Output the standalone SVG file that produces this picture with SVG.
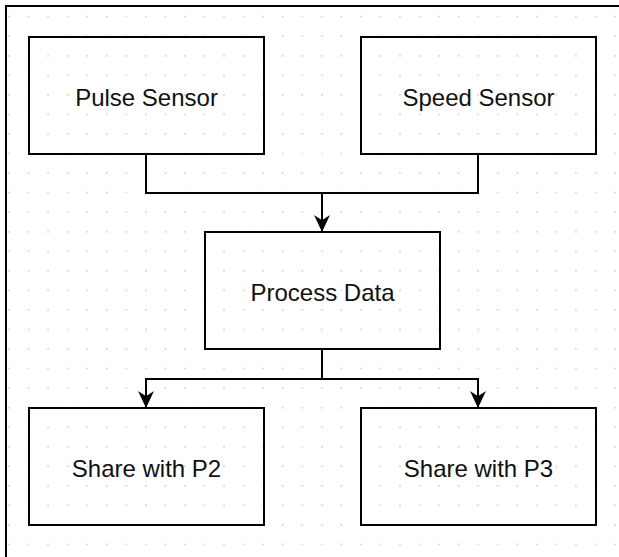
<svg xmlns="http://www.w3.org/2000/svg" width="619" height="557" viewBox="0 0 619 557">
  <defs>
    <pattern id="grid" patternUnits="userSpaceOnUse" x="-0.775" y="6.925" width="19.55" height="19.55">
      <circle cx="9.775" cy="9.775" r="0.9" fill="#cfcfcf"/>
    </pattern>
    <marker id="arrow" markerUnits="userSpaceOnUse" markerWidth="17" markerHeight="17" refX="16" refY="8" orient="auto" viewBox="0 0 16 16">
      <path d="M16,8 L0,0.5 L5,8 L0,15.5 Z" fill="#000"/>
    </marker>
    <style>
      .box { fill: none; stroke: #000; stroke-width: 2; }
      .edge { fill: none; stroke: #000; stroke-width: 2; }
      .label { font-family: "Liberation Sans", Arial, sans-serif; font-size: 24px; fill: #111; text-anchor: middle; }
      .frame { fill: none; stroke: #000; stroke-width: 2; }
    </style>
  </defs>

  <rect x="0" y="0" width="619" height="557" fill="#fff"/>
  <rect x="7" y="7" width="612" height="550" fill="url(#grid)"/>
  <path class="frame" d="M6,557 V6 H619"/>

  <g id="connectors">
    <path class="edge" d="M146,154 V193 H478 V154"/>
    <path class="edge" d="M322,193 V232" marker-end="url(#arrow)"/>
    <path class="edge" d="M322,349 V379 H146 V408" marker-end="url(#arrow)"/>
    <path class="edge" d="M322,379 H478 V408" marker-end="url(#arrow)"/>
  </g>

  <g id="pulse-sensor">
    <rect class="box" x="29" y="37" width="235" height="117"/>
    <text class="label" x="146.5" y="106">Pulse Sensor</text>
  </g>
  <g id="speed-sensor">
    <rect class="box" x="361" y="37" width="235" height="117"/>
    <text class="label" x="478.5" y="106">Speed Sensor</text>
  </g>
  <g id="process-data">
    <rect class="box" x="205" y="232" width="235" height="117"/>
    <text class="label" x="322.5" y="301">Process Data</text>
  </g>
  <g id="share-p2">
    <rect class="box" x="29" y="408" width="235" height="117"/>
    <text class="label" x="146.5" y="477">Share with P2</text>
  </g>
  <g id="share-p3">
    <rect class="box" x="361" y="408" width="235" height="117"/>
    <text class="label" x="478.5" y="477">Share with P3</text>
  </g>
</svg>
